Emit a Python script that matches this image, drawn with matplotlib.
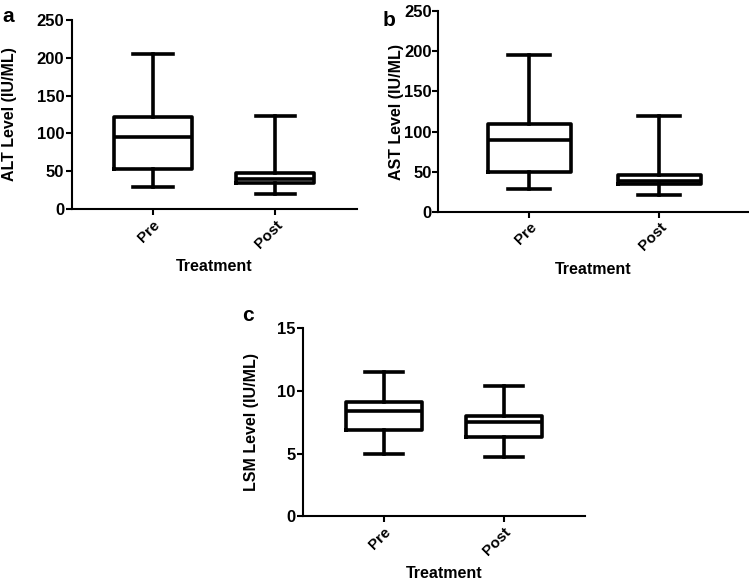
import matplotlib.pyplot as plt

plt.rcParams['font.family'] = ['Liberation Sans', 'DejaVu Sans']
plt.rcParams['font.weight'] = 'bold'

groups = ["Pre", "Post"]

# (whislo, q1, median, q3, whishi) per group
alt_stats = [(29, 52.6, 95, 121.5, 204.5), (20, 34, 39.4, 47.6, 123)]
ast_stats = [(29, 50, 89, 110, 195), (21, 35, 38.5, 46, 119)]
lsm_stats = [(5.0, 6.9, 8.4, 9.1, 11.5), (4.7, 6.3, 7.5, 8.03, 10.4)]

alt_yticks = [0, 50, 100, 150, 200, 250]
ast_yticks = [0, 50, 100, 150, 200, 250]
lsm_yticks = [0, 5, 10, 15]


def make_stats(rows):
    out = []
    for name, (lo, q1, med, q3, hi) in zip(groups, rows):
        out.append(dict(label=name, whislo=lo, q1=q1, med=med, q3=q3, whishi=hi, fliers=[]))
    return out


def draw(ax, rows, yticks, ylabel, letter, xlim, letter_pos, ypad, lpad):
    lw = 2.6
    ax.bxp(make_stats(rows), positions=[1, 2], widths=0.64, showfliers=False,
           boxprops=dict(color='black', linewidth=lw),
           whiskerprops=dict(color='black', linewidth=lw),
           capprops=dict(color='black', linewidth=lw),
           medianprops=dict(color='black', linewidth=lw),
           capwidths=0.32)
    ax.set_ylim(yticks[0], yticks[-1])
    ax.set_yticks(yticks)
    ax.set_xlim(*xlim)
    ax.set_xticks([1, 2])
    ax.set_xticklabels(groups, rotation=45, ha='right', rotation_mode='anchor',
                       fontsize=11, fontweight='bold')
    for lab in ax.get_yticklabels():
        lab.set_fontsize(12)
        lab.set_fontweight('bold')
    ax.spines['top'].set_visible(False)
    ax.spines['right'].set_visible(False)
    ax.spines['left'].set_linewidth(1.5)
    ax.spines['bottom'].set_linewidth(1.5)
    ax.tick_params(axis='x', direction='out', length=4, width=1.5, pad=2)
    ax.tick_params(axis='y', direction='out', length=4, width=1.5, pad=ypad)
    ax.set_ylabel(ylabel, fontsize=11.5, fontweight='bold', labelpad=lpad)
    ax.set_xlabel("Treatment", fontsize=11.5, fontweight='bold', labelpad=6)
    ax.text(letter_pos[0], letter_pos[1], letter, transform=ax.transAxes,
            fontsize=15, fontweight='bold', ha='left', va='top')


fig = plt.figure(figsize=(7.49, 5.84), dpi=100)

ax_a = fig.add_axes([0.096, 0.642, 0.381, 0.324])
draw(ax_a, alt_stats, alt_yticks, "ALT Level (IU/ML)", "a", (0.336, 2.672),
     (-0.245, 1.07), 1.5, 14)

ax_b = fig.add_axes([0.585, 0.637, 0.413, 0.344])
draw(ax_b, ast_stats, ast_yticks, "AST Level (IU/ML)", "b", (0.30, 2.68),
     (-0.18, 1.0), 0.5, 0)

ax_c = fig.add_axes([0.4045, 0.116, 0.3765, 0.322])
draw(ax_c, lsm_stats, lsm_yticks, "LSM Level (IU/ML)", "c", (0.325, 2.675),
     (-0.215, 1.12), 1.5, 13)

fig.savefig("out.png", dpi=100)
